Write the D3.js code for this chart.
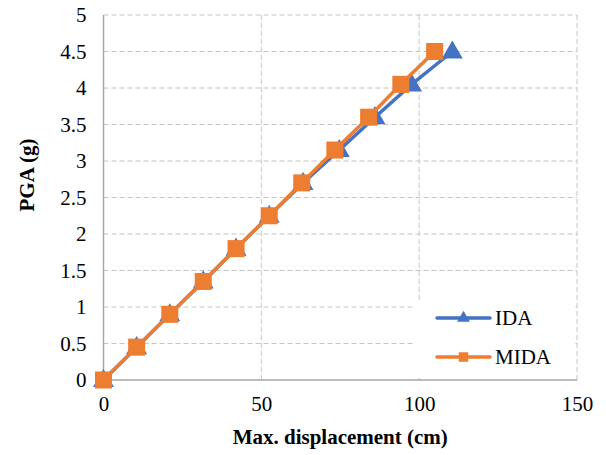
<!DOCTYPE html>
<html>
<head>
<meta charset="utf-8">
<script src="https://cdn.jsdelivr.net/npm/d3@7"></script>
<style>
  body { margin: 0; background: #fff; }
  svg { font-family: "Liberation Serif", "Times New Roman", serif; }
</style>
</head>
<body>
<svg id="chart"></svg>
<script>
// PGA levels and the max displacement read at each level
const PGA = [0, 0.45, 0.9, 1.35, 1.8, 2.25, 2.7, 3.15, 3.6, 4.05, 4.5];
const IDA = [0, 10.5, 21, 31.6, 42, 52.5, 63.2, 74.7, 86, 97.6, 110.5];
const MIDA = [0, 10.5, 21, 31.6, 42, 52.5, 62.8, 73.3, 84, 94.2, 104.9];
const X_TICKS = [0, 50, 100, 150];
const Y_TICKS = [0, 0.5, 1, 1.5, 2, 2.5, 3, 3.5, 4, 4.5, 5];

const WIDTH = 606;
const HEIGHT = 455;
const margin = { left: 103.5, right: 29, top: 15, bottom: 75 };

const svg = d3.select("#chart")
    .attr("width", WIDTH)
    .attr("height", HEIGHT);

const x = d3.scaleLinear().domain([0, 150]).range([margin.left, WIDTH - margin.right]);
const y = d3.scaleLinear().domain([0, 5]).range([HEIGHT - margin.bottom, margin.top]);

// grid
const grid = svg.append("g");
grid.selectAll(".hgrid")
    .data(Y_TICKS.filter(d => d > 0))
    .enter().append("line")
    .attr("x1", x(0)).attr("x2", x(150))
    .attr("y1", d => y(d)).attr("y2", d => y(d))
    .attr("stroke", "#c4c4c4").attr("stroke-width", 1)
    .attr("stroke-dasharray", "5,3");
grid.selectAll(".vgrid")
    .data(X_TICKS.filter(d => d > 0))
    .enter().append("line")
    .attr("x1", d => x(d)).attr("x2", d => x(d))
    .attr("y1", y(0)).attr("y2", y(5))
    .attr("stroke", "#c4c4c4").attr("stroke-width", 1)
    .attr("stroke-dasharray", "5,3");

// axes
svg.append("line")
    .attr("x1", x(0)).attr("x2", x(0))
    .attr("y1", y(0)).attr("y2", y(5))
    .attr("stroke", "#a6a6a6").attr("stroke-width", 1.5);
svg.append("line")
    .attr("x1", x(0)).attr("x2", x(150))
    .attr("y1", y(0)).attr("y2", y(0))
    .attr("stroke", "#a6a6a6").attr("stroke-width", 1.5);

const yAxis = svg.append("g")
    .attr("transform", "translate(" + (x(0) - 17) + ",0)")
    .call(d3.axisLeft(y).tickValues(Y_TICKS).tickSize(0).tickFormat(d3.format("")));
yAxis.select(".domain").remove();
yAxis.attr("font-family", null).attr("font-size", null);
yAxis.selectAll("text")
    .attr("x", 0)
    .style("font-size", "21px").attr("fill", "#000");

const xAxis = svg.append("g")
    .attr("transform", "translate(0," + (y(0) + 16) + ")")
    .call(d3.axisBottom(x).tickValues(X_TICKS).tickSize(0));
xAxis.select(".domain").remove();
xAxis.attr("font-family", null).attr("font-size", null);
xAxis.selectAll("text")
    .attr("y", 0)
    .style("font-size", "21px").attr("fill", "#000");

// axis titles
svg.append("text")
    .attr("x", (x(0) + x(150)) / 2).attr("y", 444)
    .attr("text-anchor", "middle")
    .style("font-size", "21px").attr("font-weight", "bold")
    .text("Max. displacement (cm)");
svg.append("text")
    .attr("transform", "translate(34," + 175 + ") rotate(-90)")
    .attr("text-anchor", "middle")
    .style("font-size", "21px").attr("font-weight", "bold")
    .text("PGA (g)");

// series
const series = [
    { name: "IDA", xs: IDA, color: "#4472c4", symbol: d3.symbolTriangle, size: 190 },
    { name: "MIDA", xs: MIDA, color: "#ed7d31", symbol: d3.symbolSquare, size: 290 }
];

const line = d3.line().x(d => x(d[0])).y(d => y(d[1]));

series.forEach(function(s) {
    const pts = s.xs.map((v, i) => [v, PGA[i]]);
    const g = svg.append("g");
    g.append("path")
        .attr("d", line(pts))
        .attr("fill", "none")
        .attr("stroke", s.color)
        .attr("stroke-width", 3.5);
    g.selectAll("path.m")
        .data(pts)
        .enter().append("path")
        .attr("class", "m")
        .attr("transform", d => "translate(" + x(d[0]) + "," + (y(d[1]) + (s.symbol === d3.symbolTriangle ? 1 : 0)) + ")")
        .attr("d", d3.symbol().type(s.symbol).size(s.size))
        .attr("fill", s.color);
});

// legend
const legend = svg.append("g");
legend.append("rect")
    .attr("x", 414).attr("y", 300)
    .attr("width", 160).attr("height", 78)
    .attr("fill", "#fff");
series.forEach(function(s, i) {
    const ly = 318 + i * 39;
    legend.append("line")
        .attr("x1", 437).attr("x2", 490)
        .attr("y1", ly).attr("y2", ly)
        .attr("stroke", s.color).attr("stroke-width", 3.5)
        .attr("stroke-linecap", "round");
    legend.append("path")
        .attr("transform", "translate(463.5," + ly + ")")
        .attr("d", d3.symbol().type(s.symbol).size(s.symbol === d3.symbolTriangle ? 70 : 90))
        .attr("fill", s.color);
    legend.append("text")
        .attr("x", 495).attr("y", ly + 7)
        .style("font-size", "21px")
        .text(s.name);
});
</script>
</body>
</html>
